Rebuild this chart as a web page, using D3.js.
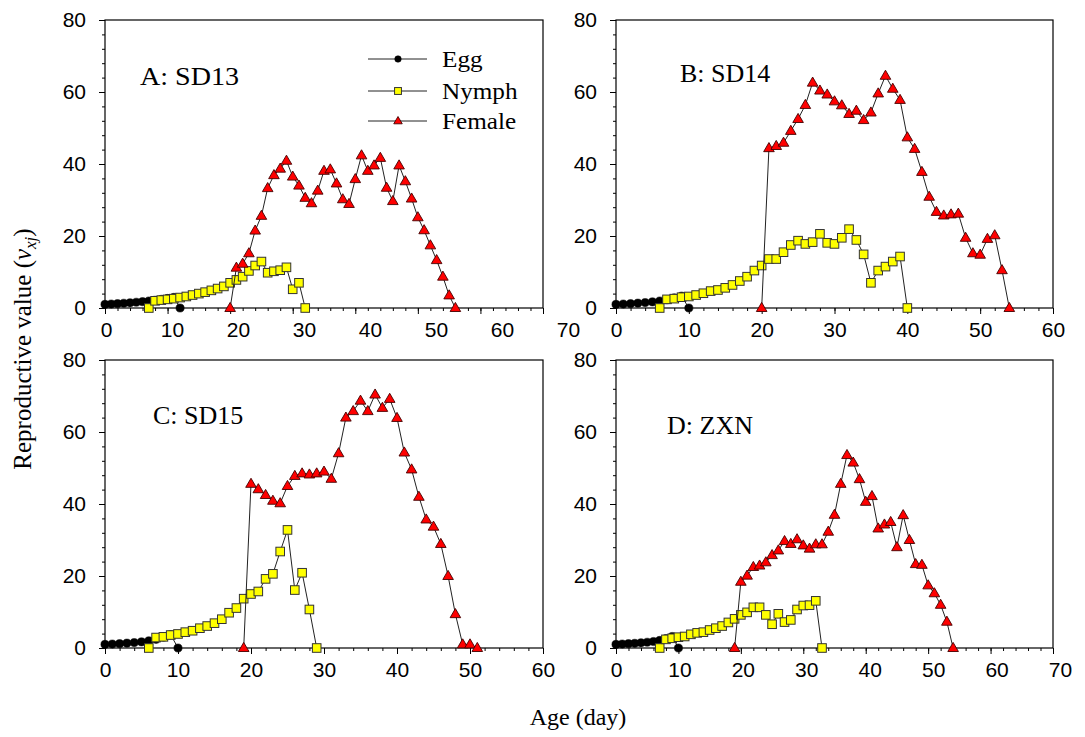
<!DOCTYPE html>
<html>
<head>
<meta charset="utf-8">
<script src="https://cdn.jsdelivr.net/npm/d3@7"></script>
<style>
  body { margin: 0; background: #fff; }
  svg { display: block; }
</style>
</head>
<body>
<svg id="chart" width="1085" height="737"></svg>
<script>
// ---------------- DATA ----------------
const panelTitles = ["A: SD13", "B: SD14", "C: SD15", "D: ZXN"];
const xMaxes = [70, 60, 60, 70];
const xTickLabels = [d3.range(0, 71, 10), d3.range(0, 61, 10), d3.range(0, 61, 10), d3.range(0, 71, 10)];
const yTickLabels = [0, 20, 40, 60, 80];
const seriesNames = ["Egg", "Nymph", "Female"];

// Panel A (SD13)
const eggStartA = 0;
const eggA = [1.0, 1.1, 1.2, 1.32, 1.45, 1.6, 1.75, 1.95, 2.15, 2.4, 2.65, 2.95, 0];
const nymphStartA = 7;
const nymphA = [0, 2.0, 2.2, 2.4, 2.6, 2.9, 3.2, 3.6, 4.0, 4.4, 4.9, 5.4, 6.0, 7.0, 7.8, 8.7, 10.3, 11.8, 12.9, 9.8, 10.2, 10.5, 11.3, 5.2, 7.0, 0];
const femaleStartA = 20;
const femaleA = [0, 11.2, 12.3, 15.2, 21.5, 25.6, 33.3, 36.9, 38.7, 40.9, 36.5, 34.0, 30.6, 29.1, 32.6, 38.1, 38.5, 34.6, 30.2, 28.9, 35.8, 42.4, 38.1, 39.6, 41.7, 33.4, 29.7, 39.6, 35.2, 30.4, 25.2, 21.6, 17.4, 13.3, 8.7, 3.5, 0];

// Panel B (SD14)
const eggStartB = 0;
const eggB = [1.0, 1.1, 1.2, 1.35, 1.5, 1.7, 1.95, 2.3, 2.8, 3.3, 0];
const nymphStartB = 6;
const nymphB = [0, 2.4, 2.6, 3.0, 3.2, 3.6, 4.1, 4.7, 5.0, 5.6, 6.4, 7.5, 8.7, 10.4, 11.8, 13.6, 13.6, 15.5, 17.5, 18.7, 17.8, 18.3, 20.6, 18.1, 17.8, 19.5, 21.9, 18.9, 14.9, 7.0, 10.4, 11.5, 12.9, 14.3, 0];
const femaleStartB = 20;
const femaleB = [0, 44.4, 45.0, 45.9, 49.2, 52.5, 56.4, 62.6, 60.4, 59.3, 57.4, 56.3, 53.9, 54.8, 52.2, 54.3, 59.6, 64.5, 60.9, 57.8, 47.4, 44.2, 37.8, 30.9, 26.7, 25.7, 26.0, 26.2, 19.5, 15.2, 14.8, 19.2, 20.2, 10.5, 0];

// Panel C (SD15)
const eggStartC = 0;
const eggC = [1.0, 1.1, 1.2, 1.35, 1.5, 1.7, 2.0, 2.4, 3.0, 3.7, 0];
const nymphStartC = 6;
const nymphC = [0, 2.9, 3.1, 3.6, 3.9, 4.4, 4.8, 5.5, 6.1, 6.9, 8.0, 9.8, 11.1, 13.7, 15.0, 15.7, 19.2, 20.6, 26.8, 32.8, 16.1, 20.9, 10.7, 0];
const femaleStartC = 19;
const femaleC = [0, 45.6, 44.1, 42.5, 40.9, 40.2, 45.0, 47.8, 48.5, 48.2, 48.5, 49.0, 47.0, 54.1, 64.0, 65.8, 68.7, 65.8, 70.4, 66.7, 69.2, 63.9, 54.3, 49.6, 42.0, 35.7, 33.7, 28.9, 20.0, 9.4, 1.0, 1.0, 0];

// Panel D (ZXN)
const eggStartD = 0;
const eggD = [1.0, 1.1, 1.2, 1.3, 1.45, 1.6, 1.8, 2.1, 2.6, 3.2, 0];
const nymphStartD = 7;
const nymphD = [0, 2.4, 2.7, 3.0, 3.2, 3.8, 4.2, 4.4, 5.0, 5.5, 6.1, 7.1, 8.1, 9.2, 9.9, 11.3, 11.3, 9.2, 6.6, 9.5, 7.2, 7.8, 10.7, 11.8, 11.9, 13.1, 0];
const femaleStartD = 19;
const femaleD = [0, 18.4, 20.1, 22.5, 22.9, 23.8, 25.8, 27.1, 29.7, 28.9, 30.2, 28.5, 27.6, 28.8, 28.8, 32.3, 37.0, 45.6, 53.6, 51.5, 46.9, 40.6, 42.2, 33.2, 34.3, 35.0, 28.0, 36.9, 30.0, 23.3, 23.1, 17.4, 15.2, 12.0, 7.3, 0];

// ---------------- LAYOUT ----------------
const svg = d3.select("#chart");
svg.append("rect").attr("width", 1085).attr("height", 737).attr("fill", "#fff");

const boxes = [
  {l: 105, r: 543, t: 20, b: 308, lblShift: 0.343, lblOff: 1, tx: 140, ty: 85, sx: 1.08},
  {l: 616, r: 1053, t: 20, b: 308, lblShift: 0, lblOff: 0, tx: 680, ty: 82, sx: 1},
  {l: 105, r: 543, t: 360, b: 648, lblShift: 0, lblOff: 0, tx: 153, ty: 424, sx: 1},
  {l: 616, r: 1053, t: 360, b: 648, lblShift: 0.1, lblOff: 0, tx: 667, ty: 434, sx: 1}
];

const panelData = [
  [[eggStartA, eggA], [nymphStartA, nymphA], [femaleStartA, femaleA]],
  [[eggStartB, eggB], [nymphStartB, nymphB], [femaleStartB, femaleB]],
  [[eggStartC, eggC], [nymphStartC, nymphC], [femaleStartC, femaleC]],
  [[eggStartD, eggD], [nymphStartD, nymphD], [femaleStartD, femaleD]]
];

const serif = "'Liberation Serif', 'Times New Roman', serif";
const sans = "'Liberation Sans', Arial, sans-serif";
const lineColor = "#222";

function drawMarker(g, kind, cx, cy, scale) {
  const s = scale || 1;
  if (kind === 0) {
    g.append("circle").attr("cx", cx).attr("cy", cy).attr("r", 4.1 * s)
      .attr("fill", "#000").attr("stroke", "#000").attr("stroke-width", 0.5);
  } else if (kind === 1) {
    const h = 4.3 * s;
    g.append("rect").attr("x", cx - h).attr("y", cy - h).attr("width", 2 * h).attr("height", 2 * h)
      .attr("fill", "#ffff00").attr("stroke", "#333").attr("stroke-width", 1);
  } else {
    const w = 5.3 * s, hu = 5.6 * s, hd = 3.5 * s;
    g.append("path").attr("d", `M${cx},${cy - hu}L${cx + w},${cy + hd}L${cx - w},${cy + hd}Z`)
      .attr("fill", "#ff0000").attr("stroke", "#400").attr("stroke-width", 0.9);
  }
}

boxes.forEach((bx, i) => {
  const x = d3.scaleLinear().domain([0, xMaxes[i]]).range([bx.l, bx.r]);
  const y = d3.scaleLinear().domain([0, 80]).range([bx.b, bx.t]);
  const g = svg.append("g");

  // minor ticks
  g.append("g").attr("transform", `translate(0,${bx.b})`)
    .call(d3.axisBottom(x).tickValues(d3.range(0, xMaxes[i] + 1, 2)).tickSize(3).tickFormat(""))
    .call(a => a.select(".domain").remove())
    .call(a => a.selectAll("line").attr("stroke", "#000"));
  g.append("g").attr("transform", `translate(${bx.l},0)`)
    .call(d3.axisLeft(y).tickValues(d3.range(0, 81, 4)).tickSize(3).tickFormat(""))
    .call(a => a.select(".domain").remove())
    .call(a => a.selectAll("line").attr("stroke", "#000"));

  // major ticks + labels
  const xa = g.append("g").attr("transform", `translate(0,${bx.b})`)
    .call(d3.axisBottom(x).tickValues(xTickLabels[i]).tickSize(6).tickPadding(8).tickFormat(d3.format("d")));
  xa.select(".domain").remove();
  xa.selectAll("line").attr("stroke", "#000");
  xa.selectAll("text").attr("font-family", sans).attr("font-size", 21).attr("fill", "#000")
    .attr("x", d => bx.lblOff + bx.lblShift * d);

  const ya = g.append("g").attr("transform", `translate(${bx.l},0)`)
    .call(d3.axisLeft(y).tickValues(yTickLabels).tickSize(6).tickPadding(13).tickFormat(d3.format("d")));
  ya.select(".domain").remove();
  ya.selectAll("line").attr("stroke", "#000");
  ya.selectAll("text").attr("font-family", sans).attr("font-size", 21).attr("fill", "#000");

  // frame
  g.append("rect").attr("x", bx.l).attr("y", bx.t).attr("width", bx.r - bx.l).attr("height", bx.b - bx.t)
    .attr("fill", "none").attr("stroke", "#000").attr("stroke-width", 1.2);

  // series
  const line = d3.line().x(d => x(d[0])).y(d => y(d[1]));
  panelData[i].forEach(([start, vals], k) => {
    const pts = vals.map((v, j) => [start + j, v]);
    const sg = g.append("g");
    sg.append("path").attr("d", line(pts)).attr("fill", "none")
      .attr("stroke", lineColor).attr("stroke-width", 1);
    pts.forEach(p => drawMarker(sg, k, x(p[0]), y(p[1])));
  });

  // panel title
  svg.append("text").attr("transform", `translate(${bx.tx},${bx.ty}) scale(${bx.sx},1)`).text(panelTitles[i])
    .attr("font-family", serif).attr("font-size", 26).attr("fill", "#000");
});

// legend (panel A)
const legRows = [59, 91, 121];
seriesNames.forEach((name, k) => {
  const lg = svg.append("g");
  lg.append("line").attr("x1", 368).attr("x2", 427).attr("y1", legRows[k]).attr("y2", legRows[k])
    .attr("stroke", lineColor).attr("stroke-width", 1);
  drawMarker(lg, k, 398, legRows[k], 0.8);
  lg.append("text").attr("transform", `translate(442,${legRows[k] + 8}) scale(1.05,1)`).text(name)
    .attr("font-family", serif).attr("font-size", 24).attr("fill", "#000");
});

// axis titles
svg.append("text").attr("x", 578).attr("y", 725).attr("text-anchor", "middle")
  .attr("font-family", serif).attr("font-size", 24).attr("fill", "#000").text("Age (day)");

const yt = svg.append("text").attr("transform", "translate(31,349) rotate(-90)")
  .attr("text-anchor", "middle").attr("font-family", serif).attr("font-size", 25).attr("fill", "#000");
yt.append("tspan").text("Reproductive value (");
yt.append("tspan").attr("font-style", "italic").text("v");
yt.append("tspan").attr("font-style", "italic").attr("font-size", 17).attr("dy", 5).text("xj");
yt.append("tspan").attr("dy", -5).text(")");
</script>
</body>
</html>
